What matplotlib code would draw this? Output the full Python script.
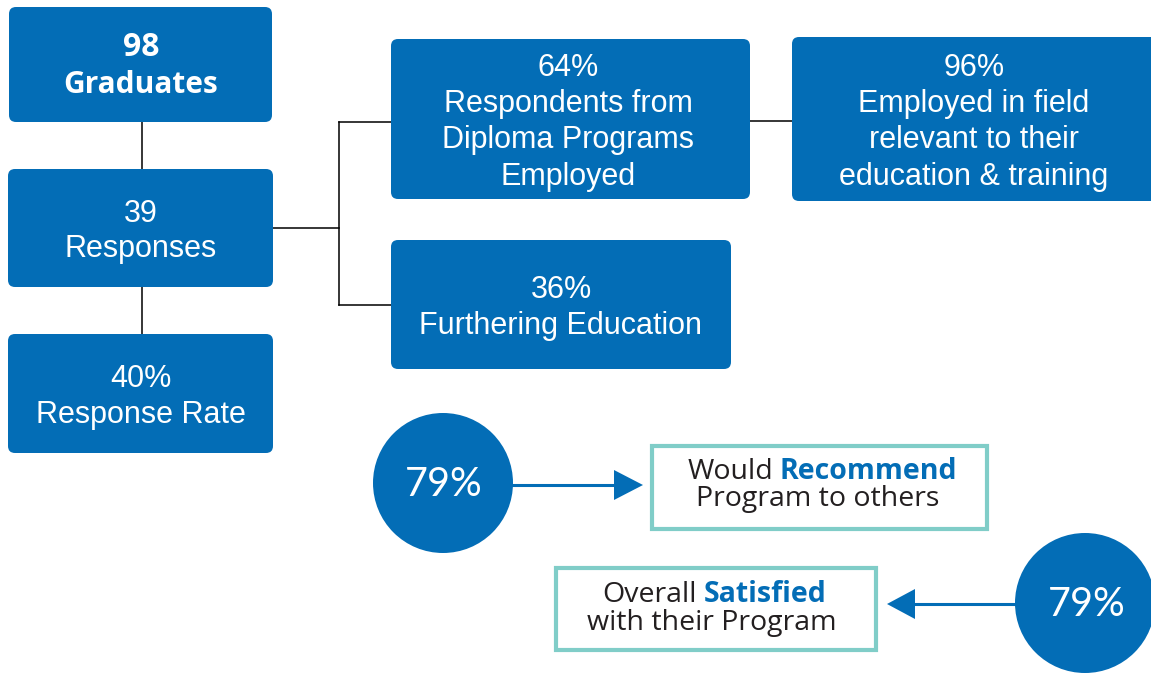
import matplotlib
matplotlib.use("Agg")
import matplotlib.pyplot as plt
from matplotlib.patches import FancyBboxPatch, Rectangle, Circle, Polygon

BLUE = "#036db6"
TEAL = "#80cdc8"
DARK = "#231f20"

# survey figures
graduates = 98
responses = 39
response_rate = 40
diploma_employed = 64
field_relevant = 96
furthering = 36
recommend = 79
satisfied = 79

# box layout: (x0, y0, x1, y1) in pixels, y downwards
boxes = {
    "grad": (9, 7, 272, 122),
    "resp": (8, 169, 273, 287),
    "rate": (8, 334, 273, 453),
    "empl": (391, 39, 750, 199),
    "field": (792, 37, 1160, 201),
    "further": (391, 240, 731, 369),
}

texts = {
    "grad": [f"{graduates}", "Graduates"],
    "resp": [f"{responses}", "Responses"],
    "rate": [f"{response_rate}%", "Response Rate"],
    "empl": [f"{diploma_employed}%", "Respondents from", "Diploma Programs", "Employed"],
    "field": [f"{field_relevant}%", "Employed in field", "relevant to their",
              "education & training"],
    "further": [f"{furthering}%", "Furthering Education"],
}

baselines = {
    "grad": [56, 93],
    "resp": [222, 257],
    "rate": [387, 423],
    "empl": [76, 112, 148, 185],
    "field": [76, 112, 148, 185],
    "further": [298, 334],
}

centers_x = {"grad": 141, "resp": 141, "rate": 141, "empl": 568,
             "field": 974, "further": 561}


def main():
    fig = plt.figure(figsize=(11.51, 6.73), dpi=100)
    ax = fig.add_axes([0, 0, 1, 1])
    ax.set_xlim(0, 1151)
    ax.set_ylim(673, 0)
    ax.axis("off")

    # connector lines
    lk = dict(color="black", lw=1.1, zorder=1)
    ax.plot([142, 142], [122, 169], **lk)
    ax.plot([142, 142], [287, 334], **lk)
    ax.plot([273, 339], [228, 228], **lk)
    ax.plot([339, 339], [122, 305], **lk)
    ax.plot([339, 391], [122, 122], **lk)
    ax.plot([339, 391], [305, 305], **lk)
    ax.plot([750, 792], [121, 121], **lk)

    for key, (x0, y0, x1, y1) in boxes.items():
        ax.add_patch(FancyBboxPatch((x0, y0), x1 - x0, y1 - y0,
                                    boxstyle="round,pad=0,rounding_size=7",
                                    fc=BLUE, ec="none", zorder=2))
        bold = key == "grad"
        for i, (line, yb) in enumerate(zip(texts[key], baselines[key])):
            if bold:
                fs = 23 if i == 0 else 21.5
            else:
                fs = 22
            ax.text(centers_x[key], yb, line, ha="center", va="baseline",
                    color="white", fontsize=fs,
                    family="Liberation Sans" if not bold else "Open Sans",
                    fontweight="bold" if bold else "normal", zorder=3)

    # circles
    ax.add_patch(Circle((443, 483), 70, fc=BLUE, ec="none", zorder=2))
    ax.add_patch(Circle((1085, 603), 70, fc=BLUE, ec="none", zorder=2))
    ax.text(444, 496, f"{recommend}%", ha="center", va="baseline",
            color="white", fontsize=28.5, family="Lato", zorder=3)
    ax.text(1087, 616, f"{satisfied}%", ha="center", va="baseline",
            color="white", fontsize=28.5, family="Lato", zorder=3)

    # arrows
    ax.plot([513, 616], [485, 485], color=BLUE, lw=2.2, zorder=1)
    ax.add_patch(Polygon([[614, 470], [643, 485], [614, 500]], fc=BLUE,
                         ec="none", zorder=2))
    ax.plot([1015, 913], [604, 604], color=BLUE, lw=2.2, zorder=1)
    ax.add_patch(Polygon([[915, 589], [887, 604], [915, 619]], fc=BLUE,
                         ec="none", zorder=2))

    # teal boxes
    ax.add_patch(Rectangle((652, 446), 335, 83, fc="white", ec=TEAL,
                           lw=3, zorder=2))
    ax.add_patch(Rectangle((556, 568), 320, 82, fc="white", ec=TEAL,
                           lw=3, zorder=2))

    tk = dict(va="baseline", fontsize=20.5, family="Open Sans", zorder=3)
    ax.text(773, 479, "Would", ha="right", color=DARK, **tk)
    ax.text(780, 479, "Recommend", ha="left", color=BLUE, fontweight="bold", **tk)
    ax.text(818, 506, "Program to others", ha="center", color=DARK, **tk)
    ax.text(697, 602, "Overall", ha="right", color=DARK, **tk)
    ax.text(704, 602, "Satisfied", ha="left", color=BLUE, fontweight="bold", **tk)
    ax.text(712, 630, "with their Program", ha="center", color=DARK, **tk)

    fig.savefig("out.png", dpi=100)


if __name__ == "__main__":
    main()
